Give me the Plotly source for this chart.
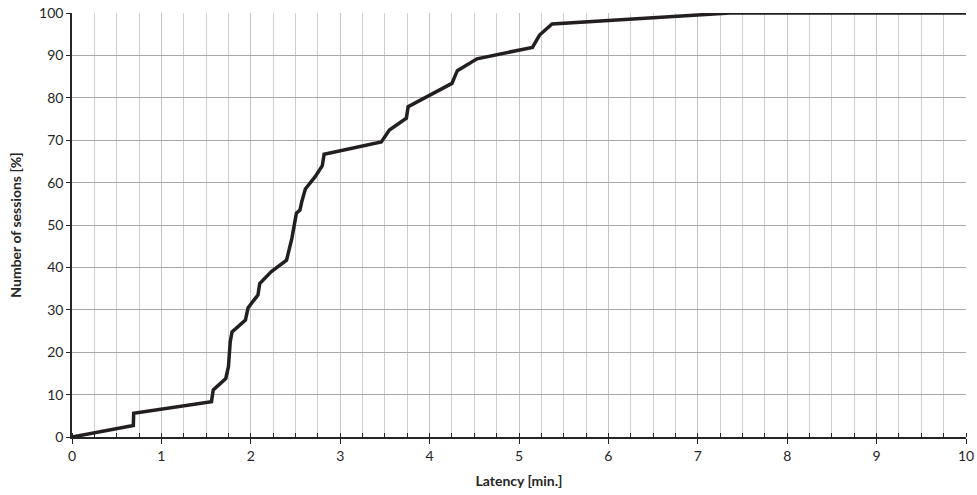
import plotly.graph_objects as go

# cumulative share of sessions vs latency
latency = [0.0, 0.686, 0.69, 1.56, 1.58, 1.72, 1.75, 1.77, 1.79, 1.94, 1.97,
           2.07, 2.08, 2.10, 2.23, 2.40, 2.46, 2.51, 2.55, 2.57, 2.61, 2.72,
           2.80, 2.82, 3.46, 3.55, 3.74, 3.76, 4.25, 4.31, 4.53, 5.15, 5.23,
           5.37, 6.24, 7.36, 10.0]
sessions = [0.0, 2.7, 5.6, 8.3, 11.1, 13.8, 16.6, 22.5, 24.8, 27.6, 30.5,
            33.0, 33.5, 36.2, 39.0, 41.7, 46.9, 52.8, 53.5, 55.5, 58.5, 61.4,
            64.0, 66.7, 69.6, 72.4, 75.2, 77.9, 83.4, 86.4, 89.2, 91.9, 94.8,
            97.4, 98.6, 100.0, 100.0]

fig = go.Figure()
fig.add_trace(go.Scatter(x=latency, y=sessions, mode="lines",
                         line=dict(color="#231f20", width=3.5),
                         showlegend=False))

fig.update_layout(
    width=977, height=495,
    margin=dict(l=72, r=11, t=13, b=58),
    paper_bgcolor="white", plot_bgcolor="white",
    font=dict(family="Lato, sans-serif", size=14, color="#262626"),
)
fig.update_xaxes(
    range=[0, 10], dtick=1, tick0=0, automargin=False,
    showline=True, linecolor="#262626", linewidth=1.5,
    ticks="outside", ticklen=5, tickcolor="#262626",
    showgrid=True, gridcolor="#c4c4c4", gridwidth=1,
    minor=dict(dtick=0.25, showgrid=True, gridcolor="#cfcfcf",
               ticks="inside", ticklen=4, tickcolor="#262626"),
    zeroline=False,
    title=dict(text="<b>Latency [min.]</b>", font=dict(size=14), standoff=14),
)
fig.update_yaxes(
    range=[0, 100], dtick=10, tick0=0, automargin=False,
    showline=True, linecolor="#262626", linewidth=1.5,
    ticks="outside", ticklen=4, tickcolor="#262626",
    showgrid=True, gridcolor="#a9a9a9", gridwidth=1,
    zeroline=False,
    title=dict(text="<b>Number of sessions [%]</b>", font=dict(size=14), standoff=14),
)

fig.write_html("out.html", config={"displayModeBar": False},
               post_script="document.body.style.margin='0';")
